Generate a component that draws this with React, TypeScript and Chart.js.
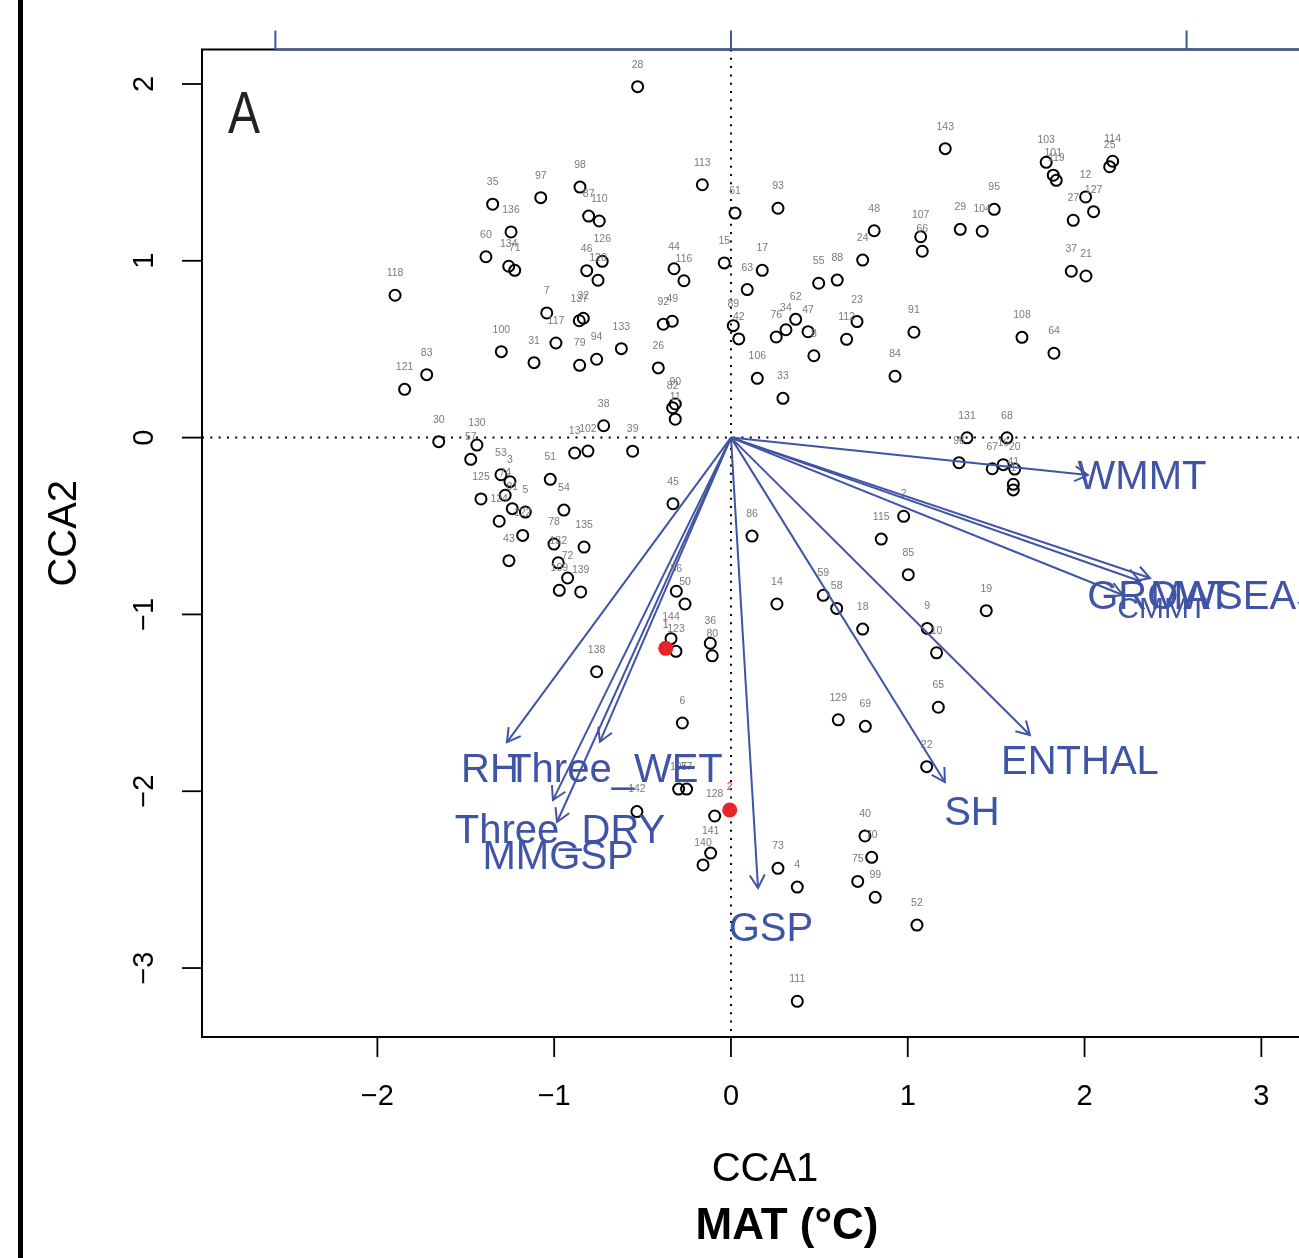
import React, { useEffect, useRef } from "react";
import { Chart, registerables } from "chart.js";
Chart.register(...registerables);

// ---- site scores (CCA1, CCA2) ----
const siteLabels = ["28","98","113","87","110","61","93","48","15","17","24","46","126","120","44","116","63","55","88","137","32","92","49","89","42","62","34","76","47","8","23","112","133","94","79","26","106","33","84","35","97","136","60","134","71","118","7","117","100","31","83","121","90","82","11","38","13","102","39","45","30","130","57","53","3","125","74","81","5","124","122","43","51","54","78","132","72","109","139","135","138","56","50","144","123","36","80","86","115","14","59","58","18","6","129","69","142","128","105","77","141","140","73","4","40","70","75","99","52","111","22","131","68","96","67","16","20","41","1","2","85","19","9","10","65","143","103","101","119","114","25","12","127","27","95","29","104","107","66","37","21","91","108","64"];
const siteX = [-0.528,-0.854,-0.162,-0.805,-0.745,0.023,0.266,0.810,-0.038,0.177,0.745,-0.816,-0.728,-0.752,-0.322,-0.266,0.092,0.496,0.601,-0.858,-0.835,-0.383,-0.332,0.013,0.044,0.366,0.311,0.256,0.436,0.469,0.713,0.654,-0.620,-0.760,-0.856,-0.411,0.149,0.294,0.928,-1.348,-1.076,-1.244,-1.386,-1.257,-1.223,-1.900,-1.042,-0.990,-1.299,-1.114,-1.721,-1.846,-0.315,-0.330,-0.315,-0.720,-0.884,-0.809,-0.556,-0.328,-1.653,-1.437,-1.472,-1.301,-1.250,-1.414,-1.277,-1.237,-1.163,-1.311,-1.178,-1.256,-1.022,-0.945,-1.001,-0.977,-0.924,-0.971,-0.850,-0.831,-0.760,-0.309,-0.260,-0.339,-0.311,-0.117,-0.106,0.119,0.850,0.260,0.522,0.598,0.745,-0.275,0.607,0.760,-0.532,-0.092,-0.296,-0.251,-0.115,-0.158,0.266,0.375,0.758,0.796,0.717,0.816,1.052,0.375,1.107,1.335,1.561,1.290,1.478,1.540,1.605,1.597,1.597,0.977,1.003,1.444,1.110,1.163,1.173,1.212,1.783,1.823,1.840,2.159,2.142,2.006,2.051,1.936,1.489,1.297,1.421,1.073,1.082,1.925,2.008,1.035,1.646,1.827];
const siteY = [1.985,1.417,1.430,1.253,1.225,1.270,1.297,1.170,0.988,0.946,1.004,0.944,0.997,0.890,0.955,0.887,0.837,0.873,0.891,0.661,0.675,0.641,0.658,0.633,0.558,0.669,0.610,0.569,0.599,0.463,0.656,0.556,0.503,0.443,0.409,0.394,0.335,0.222,0.347,1.320,1.357,1.163,1.023,0.969,0.946,0.805,0.705,0.535,0.486,0.424,0.356,0.273,0.190,0.169,0.104,0.067,-0.087,-0.076,-0.077,-0.374,-0.023,-0.042,-0.123,-0.210,-0.249,-0.347,-0.326,-0.402,-0.421,-0.473,-0.553,-0.696,-0.236,-0.410,-0.602,-0.708,-0.794,-0.864,-0.873,-0.619,-1.324,-0.869,-0.941,-1.137,-1.209,-1.163,-1.234,-0.557,-0.574,-0.941,-0.892,-0.966,-1.083,-1.614,-1.596,-1.633,-2.115,-2.140,-1.988,-1.988,-2.350,-2.417,-2.436,-2.542,-2.253,-2.374,-2.510,-2.600,-2.757,-3.188,-1.861,-0.001,-0.001,-0.142,-0.176,-0.153,-0.178,-0.264,-0.296,-0.445,-0.775,-0.979,-1.079,-1.217,-1.525,1.634,1.557,1.484,1.455,1.563,1.532,1.361,1.278,1.229,1.291,1.178,1.167,1.136,1.054,0.941,0.914,0.596,0.567,0.477];

// ---- highlighted points ----
const redLabels = ["1", "2"];
const redX = [-0.369, -0.007];
const redY = [-1.192, -2.106];

// ---- biplot arrows ----
const arrowNames = ["WMMT", "GROWSEAS", "MAT", "CMMT", "ENTHAL", "SH", "GSP", "RH", "Three_WET", "Three_DRY", "MMGSP"];
const arrowTipX = [2.019, 2.370, 2.313, 2.216, 1.691, 1.210, 0.153, -1.267, -0.741, -1.007, -0.984];
const arrowTipY = [-0.212, -0.794, -0.811, -0.890, -1.682, -1.948, -2.547, -1.722, -1.720, -2.050, -2.174];
const arrowLabelX = [2.325, 2.681, 2.600, 2.440, 1.974, 1.363, 0.226, -1.363, -0.656, -0.967, -0.978];
const arrowLabelY = [-0.229, -0.907, -0.907, -0.975, -1.840, -2.129, -2.785, -1.886, -1.886, -2.231, -2.378];

// ---- axes ----
const xTicks = [-2, -1, 0, 1, 2, 3];
const yTicks = [-3, -2, -1, 0, 1, 2];
const topTicks = [-1, 0, 1];
const TOP_UNIT = 2.577;

const BLUE = "#3F54A5";
const FONT = '"Liberation Sans", Arial, Helvetica, sans-serif';
const labelSize: Record<string, number> = { CMMT: 30 };

const fmt = (v: number) => (v < 0 ? "\u2212" + Math.abs(v) : String(v));

const decor = {
  id: "decor",
  beforeDatasetsDraw(chart: any) {
    const { ctx, chartArea: a, scales } = chart;
    const x0 = scales.x.getPixelForValue(0);
    const y0 = scales.y.getPixelForValue(0);
    ctx.save();
    ctx.strokeStyle = "#000";
    ctx.lineWidth = 2;
    ctx.setLineDash([2, 6.3]);
    ctx.beginPath();
    ctx.moveTo(a.left, y0);
    ctx.lineTo(a.right, y0);
    ctx.moveTo(x0, a.top);
    ctx.lineTo(x0, a.bottom);
    ctx.stroke();
    ctx.restore();
  },
  afterDatasetsDraw(chart: any) {
    const { ctx, chartArea: a, scales } = chart;
    const sx = scales.x, sy = scales.y;
    const ox = sx.getPixelForValue(0), oy = sy.getPixelForValue(0);
    ctx.save();

    // site labels
    ctx.font = `10.5px ${FONT}`;
    ctx.fillStyle = "#7a7a7a";
    ctx.textAlign = "center";
    ctx.textBaseline = "middle";
    siteLabels.forEach((l, i) => {
      ctx.fillText(l, sx.getPixelForValue(siteX[i]), sy.getPixelForValue(siteY[i]) - 22);
    });
    ctx.fillStyle = "#e8242a";
    redLabels.forEach((l, i) => {
      ctx.fillText(l, sx.getPixelForValue(redX[i]), sy.getPixelForValue(redY[i]) - 23);
    });

    // arrowheads
    ctx.strokeStyle = BLUE;
    ctx.lineWidth = 2;
    arrowNames.forEach((_, i) => {
      const tx = sx.getPixelForValue(arrowTipX[i]);
      const ty = sy.getPixelForValue(arrowTipY[i]);
      const ang = Math.atan2(ty - oy, tx - ox);
      const L = 15, w = Math.PI / 6;
      ctx.beginPath();
      ctx.moveTo(tx - L * Math.cos(ang - w), ty - L * Math.sin(ang - w));
      ctx.lineTo(tx, ty);
      ctx.lineTo(tx - L * Math.cos(ang + w), ty - L * Math.sin(ang + w));
      ctx.stroke();
    });

    // arrow labels
    ctx.fillStyle = BLUE;
    arrowNames.forEach((n, i) => {
      ctx.font = `${labelSize[n] || 40}px ${FONT}`;
      ctx.fillText(n, sx.getPixelForValue(arrowLabelX[i]), sy.getPixelForValue(arrowLabelY[i]));
    });

    // frame
    ctx.strokeStyle = "#000";
    ctx.lineWidth = 2;
    ctx.beginPath();
    ctx.moveTo(a.right + 20, a.top);
    ctx.lineTo(a.left, a.top);
    ctx.lineTo(a.left, a.bottom);
    ctx.lineTo(a.right + 20, a.bottom);
    ctx.stroke();

    // bottom axis
    ctx.lineWidth = 1.8;
    ctx.font = `29px ${FONT}`;
    ctx.fillStyle = "#000";
    xTicks.forEach((t) => {
      const px = sx.getPixelForValue(t);
      ctx.beginPath();
      ctx.moveTo(px, a.bottom);
      ctx.lineTo(px, a.bottom + 20);
      ctx.stroke();
      ctx.fillText(fmt(t), px, a.bottom + 60);
    });
    // left axis
    yTicks.forEach((t) => {
      const py = sy.getPixelForValue(t);
      ctx.beginPath();
      ctx.moveTo(a.left - 20, py);
      ctx.lineTo(a.left, py);
      ctx.stroke();
      ctx.save();
      ctx.translate(a.left - 57, py);
      ctx.rotate(-Math.PI / 2);
      ctx.fillText(fmt(t), 0, 0);
      ctx.restore();
    });

    // top (biplot) axis
    ctx.strokeStyle = BLUE;
    ctx.lineWidth = 2;
    const tp = topTicks.map((t) => sx.getPixelForValue(t * TOP_UNIT));
    ctx.beginPath();
    ctx.moveTo(tp[0], a.top);
    ctx.lineTo(a.right + 20, a.top);
    tp.forEach((px) => {
      ctx.moveTo(px, a.top);
      ctx.lineTo(px, a.top - 19);
    });
    ctx.stroke();

    // titles
    ctx.fillStyle = "#000";
    ctx.font = `40px ${FONT}`;
    ctx.fillText("CCA1", (a.left + a.right) / 2, a.bottom + 133);
    ctx.font = `bold 44px ${FONT}`;
    ctx.fillText("MAT (\u00B0C)", (a.left + a.right) / 2 + 22, a.bottom + 190);
    ctx.save();
    ctx.font = `40px ${FONT}`;
    ctx.translate(65, (a.top + a.bottom) / 2 - 10);
    ctx.rotate(-Math.PI / 2);
    ctx.fillText("CCA2", 0, 0);
    ctx.restore();

    // panel letter
    ctx.save();
    ctx.fillStyle = "#222";
    ctx.font = `60px ${FONT}`;
    ctx.textAlign = "left";
    ctx.textBaseline = "alphabetic";
    ctx.translate(a.left + 26, a.top + 83);
    ctx.scale(0.8, 1);
    ctx.fillText("A", 0, 0);
    ctx.restore();

    // neighbouring panel edge
    ctx.fillStyle = "#000";
    ctx.fillRect(18, 0, 5, chart.height);

    ctx.restore();
  },
};

export default function App() {
  const ref = useRef<HTMLCanvasElement | null>(null);
  useEffect(() => {
    if (!ref.current) return;
    const arrowSets = arrowNames.map((n, i) => ({
      label: n,
      data: [{ x: 0, y: 0 }, { x: arrowTipX[i], y: arrowTipY[i] }],
      showLine: true,
      borderColor: BLUE,
      borderWidth: 2,
      pointRadius: 0,
      fill: false,
    }));
    const chart = new Chart(ref.current, {
      type: "scatter",
      data: {
        datasets: [
          ...arrowSets,
          {
            label: "highlight",
            data: redX.map((x, i) => ({ x, y: redY[i] })),
            pointRadius: 7.5,
            backgroundColor: "#e8242a",
            borderColor: "#e8242a",
            borderWidth: 0,
          },
          {
            label: "sites",
            data: siteX.map((x, i) => ({ x, y: siteY[i] })),
            pointRadius: 5.5,
            borderWidth: 2,
            borderColor: "#000",
            backgroundColor: "rgba(0,0,0,0)",
          },
        ] as any,
      },
      options: {
        responsive: false,
        animation: false,
        events: [],
        layout: { padding: { left: 202, top: 49.5, right: 12, bottom: 221 } },
        plugins: { legend: { display: false }, tooltip: { enabled: false }, title: { display: false } },
        scales: {
          x: { type: "linear", min: -2.992, max: 3.377, display: false },
          y: { type: "linear", min: -3.39, max: 2.195, display: false },
        },
      },
      plugins: [decor],
    });
    return () => chart.destroy();
  }, []);
  return (
    <div style={{ position: "fixed", left: 0, top: 0, width: 1299, height: 1258, overflow: "hidden", background: "#fff" }}>
      <canvas ref={ref} width={1340} height={1258} style={{ display: "block", width: 1340, height: 1258 }} />
    </div>
  );
}
